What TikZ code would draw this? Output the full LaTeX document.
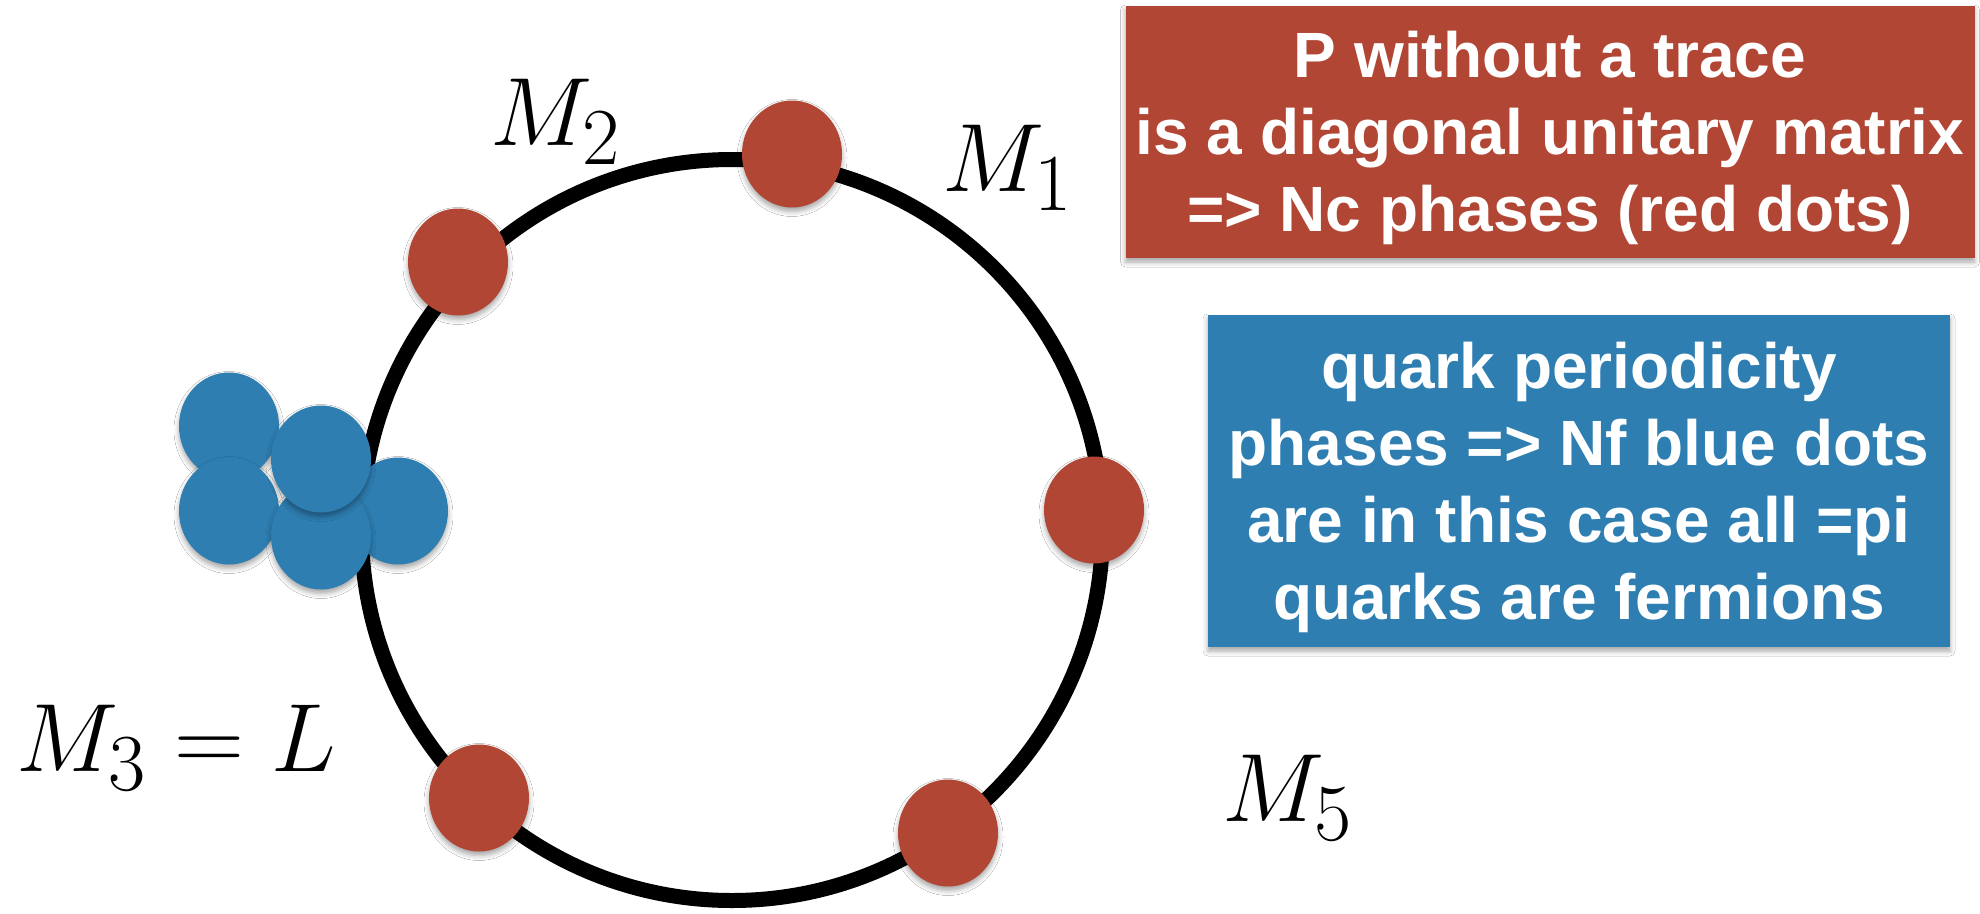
\documentclass[tikz,border=0pt]{standalone}
\usepackage{fontspec}
\setsansfont{Liberation Sans}
\usetikzlibrary{shapes.geometric,shadows.blur}
\definecolor{feltred}{RGB}{178,70,52}
\definecolor{feltblue}{RGB}{46,126,178}
\tikzset{
  softshadow/.style={blur shadow={shadow xshift=0pt, shadow yshift=-4pt, shadow blur radius=5pt, shadow opacity=35}},
  ring/.style={circle, draw=black, line width=15pt, minimum size=741pt, inner sep=0pt},
  reddot/.style={ellipse, fill=feltred, minimum width=100pt, minimum height=107pt, inner sep=0pt, softshadow},
  bluedot/.style={ellipse, fill=feltblue, minimum width=100pt, minimum height=107pt, inner sep=0pt, softshadow},
  mlabel/.style={font=\Huge, scale=3.9, inner sep=0pt},
  boxtext/.style={text=white, font=\sffamily\bfseries\fontsize{64}{77}\selectfont, align=center, inner sep=0pt},
  redbox/.style={rectangle, fill=feltred, minimum width=849pt, minimum height=252pt, inner sep=0pt, softshadow},
  bluebox/.style={rectangle, fill=feltblue, minimum width=742pt, minimum height=332pt, inner sep=0pt, softshadow}
}
\begin{document}
\begin{tikzpicture}[x=1pt,y=-1pt]
\useasboundingbox[fill=white] (0,0) rectangle (1980,913);
\node[ring] (ring) at (732,530) {};
\node[reddot] (d1) at (792,154) {};
\node[reddot] (d2) at (458,262) {};
\node[reddot] (d3) at (1094,510) {};
\node[reddot] (d4) at (479,798) {};
\node[reddot] (d5) at (948,833) {};
\node[bluedot] (q1) at (229,426) {};
\node[bluedot] (q2) at (229,511) {};
\node[bluedot] (q3) at (398,511) {};
\node[bluedot] (q4) at (321,536) {};
\node[bluedot] (q5) at (321,459) {};
\node[mlabel] (l2) at (556,122) {$M_2$};
\node[mlabel] (l1) at (1008,168) {$M_1$};
\node[mlabel] (l3) at (176,748) {$M_3 = L$};
\node[mlabel] (l5) at (1288,798) {$M_5$};
\node[redbox] (pbox) at (1550,132) {};
\node[boxtext] (ptext) at ([yshift=-6pt]pbox.center) {P without a trace\\is a diagonal unitary matrix\\=> Nc phases (red dots)};
\node[bluebox] (qbox) at (1579,481) {};
\node[boxtext] (qtext) at ([yshift=-6pt]qbox.center) {quark periodicity\\phases => Nf blue dots\\are in this case all =pi\\quarks are fermions};
\end{tikzpicture}
\end{document}
